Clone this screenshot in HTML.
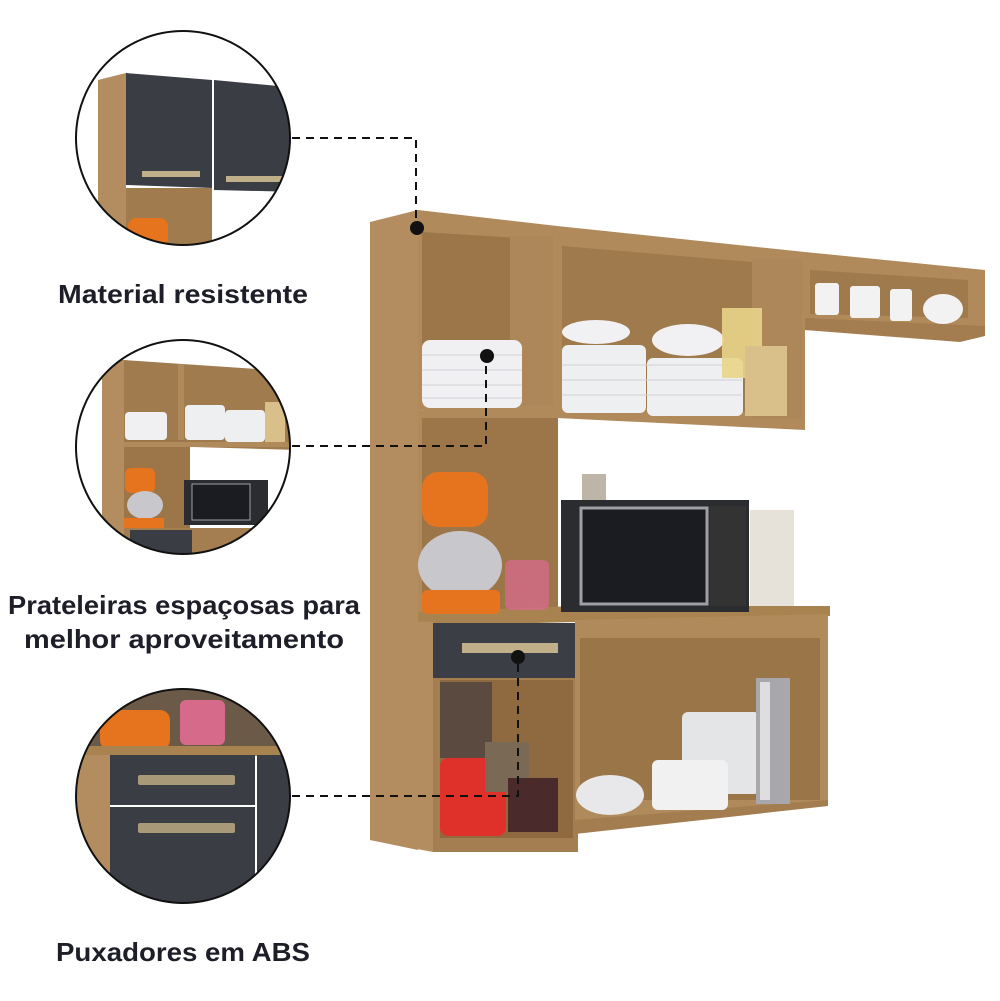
<!DOCTYPE html>
<html><head><meta charset="utf-8"><style>
html,body{margin:0;padding:0;background:#fff;}
svg{display:block}
text{font-family:"Liberation Sans",sans-serif;font-weight:bold;fill:#1e1e28;}
</style></head><body>
<svg width="1000" height="1001" viewBox="0 0 1000 1001" xmlns="http://www.w3.org/2000/svg">
<defs>
<clipPath id="c1"><circle cx="183" cy="138" r="107"/></clipPath>
<clipPath id="c2"><circle cx="183" cy="447" r="107"/></clipPath>
<clipPath id="c3"><circle cx="183" cy="796" r="107"/></clipPath>
</defs>

<!-- ===== Furniture ===== -->
<!-- tall left side panel -->
<polygon points="370,222 418,210 418,850 370,840" fill="#b38d5f"/>
<polygon points="418,210 557,226 557,418 418,410" fill="#b08a5a"/>
<!-- left top compartment interior -->
<polygon points="422,232 553,240 553,406 422,404" fill="#9c7649"/>
<rect x="510" y="236" width="43" height="170" fill="#ad875a"/>
<!-- left middle compartment -->
<polygon points="418,410 557,414 557,620 418,620" fill="#b08a5a"/>
<rect x="422" y="418" width="136" height="194" fill="#9c7649"/>
<!-- upper middle cabinet -->
<polygon points="557,226 805,252 805,430 557,418" fill="#b08a5a"/>
<polygon points="562,246 752,262 752,412 562,406" fill="#9f7a4d"/>
<rect x="752" y="258" width="50" height="160" fill="#ad875a"/>
<!-- right small shelf -->
<polygon points="805,252 985,270 985,336 805,330" fill="#b08a5a"/>
<polygon points="810,270 968,280 968,318 810,314" fill="#9f7a4d"/>
<polygon points="805,318 985,326 985,336 960,342 805,330" fill="#a37c4f"/>
<!-- counter top -->
<polygon points="418,612 575,606 830,606 830,616 575,622 418,626" fill="#a8824f"/>
<!-- lower left -->
<polygon points="370,620 433,622 433,852 370,840" fill="#b38d5f"/>
<rect x="433" y="678" width="145" height="174" fill="#a47e51"/>
<rect x="440" y="680" width="133" height="158" fill="#8f6a40"/>
<!-- drawer -->
<rect x="433" y="623" width="148" height="55" fill="#3b3e44"/>
<rect x="462" y="643" width="96" height="10" fill="#bfb08a"/>
<!-- lower right cabinet -->
<polygon points="575,620 828,614 828,805 575,832" fill="#b08a5a"/>
<rect x="580" y="638" width="240" height="162" fill="#9a7548"/>
<polygon points="575,820 828,800 828,806 575,834" fill="#a37c4f"/>

<!-- items: plates -->
<rect x="422" y="340" width="100" height="68" rx="8" fill="#f0f0f2"/>
<g stroke="#cfd2d6" stroke-width="1"><line x1="422" y1="355" x2="522" y2="355"/><line x1="422" y1="370" x2="522" y2="370"/><line x1="422" y1="385" x2="522" y2="385"/><line x1="422" y1="398" x2="522" y2="398"/></g>
<ellipse cx="596" cy="332" rx="34" ry="12" fill="#f1f1f3"/>
<rect x="562" y="345" width="84" height="68" rx="6" fill="#eeeff1"/>
<ellipse cx="688" cy="340" rx="36" ry="16" fill="#f1f1f3"/>
<rect x="647" y="358" width="96" height="58" rx="6" fill="#eeeff1"/>
<g stroke="#cfd2d6"><line x1="562" y1="365" x2="742" y2="365"/><line x1="562" y1="380" x2="742" y2="380"/><line x1="562" y1="395" x2="742" y2="395"/></g>
<rect x="722" y="308" width="40" height="70" fill="#e8d48a" opacity=".9"/>
<rect x="745" y="346" width="42" height="70" fill="#d9c08a"/>
<!-- mugs -->
<rect x="815" y="283" width="24" height="32" rx="3" fill="#f2f2f2"/>
<rect x="850" y="286" width="30" height="32" rx="3" fill="#f2f2f2"/>
<rect x="890" y="289" width="22" height="32" rx="3" fill="#f2f2f2"/>
<ellipse cx="943" cy="309" rx="20" ry="15" fill="#f2f2f2"/>
<!-- mixer -->
<rect x="422" y="472" width="66" height="55" rx="16" fill="#e6731d"/>
<ellipse cx="460" cy="565" rx="42" ry="34" fill="#c8c8cc"/>
<rect x="422" y="590" width="78" height="24" rx="5" fill="#e6731d"/>
<rect x="505" y="560" width="44" height="50" rx="6" fill="#d56a8a" opacity=".8"/>
<!-- microwave -->
<rect x="561" y="500" width="188" height="112" fill="#2b2c30"/>
<rect x="581" y="508" width="126" height="96" fill="#1b1b22" stroke="#9ea0a4" stroke-width="3"/>
<rect x="710" y="506" width="36" height="100" fill="#333"/>
<rect x="582" y="474" width="24" height="26" fill="#bdb6a8"/>
<rect x="750" y="510" width="44" height="96" fill="#e6e2da"/>
<!-- lower left items -->
<rect x="440" y="682" width="52" height="76" fill="#5a4a40"/>
<rect x="440" y="758" width="66" height="78" rx="8" fill="#e0302a"/>
<rect x="485" y="742" width="44" height="50" fill="#7a6a55"/>
<rect x="508" y="778" width="50" height="54" fill="#4a2a2a"/>
<!-- pots -->
<ellipse cx="610" cy="795" rx="34" ry="20" fill="#e8e8ea"/>
<rect x="682" y="712" width="78" height="82" rx="6" fill="#e4e5e7"/>
<rect x="652" y="760" width="76" height="50" rx="6" fill="#f1f1f2"/>
<rect x="756" y="678" width="34" height="126" fill="#a8a8ac"/>
<rect x="760" y="682" width="10" height="118" fill="#dedee0"/>

<!-- ===== Circles ===== -->
<g clip-path="url(#c1)">
<rect x="70" y="25" width="230" height="230" fill="#fff"/>
<polygon points="98,80 126,73 126,250 98,250" fill="#b38d5f"/>
<polygon points="126,73 212,80 212,188 126,185" fill="#3a3d44"/>
<polygon points="214,80 300,88 300,192 214,190" fill="#3a3d44"/>
<rect x="142" y="171" width="58" height="6" fill="#bfb08a"/>
<rect x="226" y="176" width="56" height="6" fill="#bfb08a"/>
<rect x="126" y="188" width="86" height="70" fill="#a07b4d"/>
<rect x="128" y="218" width="40" height="30" rx="8" fill="#e6731d"/>
</g>
<circle cx="183" cy="138" r="107" fill="none" stroke="#111" stroke-width="2"/>

<g clip-path="url(#c2)">
<rect x="70" y="340" width="230" height="230" fill="#fff"/>
<rect x="102" y="360" width="22" height="200" fill="#b38d5f"/>
<polygon points="124,360 300,372 300,450 124,445" fill="#a07b4d"/>
<rect x="178" y="364" width="6" height="190" fill="#b08a5a"/>
<rect x="124" y="440" width="66" height="110" fill="#9c7649"/>
<rect x="124" y="442" width="176" height="5" fill="#b08a5a"/>
<rect x="125" y="412" width="42" height="28" rx="4" fill="#f0f0f2"/>
<rect x="185" y="405" width="40" height="35" rx="4" fill="#eeeff1"/>
<rect x="225" y="410" width="40" height="32" rx="4" fill="#eeeff1"/>
<rect x="265" y="402" width="20" height="40" fill="#d9c08a"/>
<rect x="184" y="480" width="84" height="45" fill="#2b2c30"/>
<rect x="192" y="484" width="58" height="36" fill="#1b1b22" stroke="#9ea0a4"/>
<rect x="125" y="468" width="30" height="25" rx="6" fill="#e6731d"/>
<ellipse cx="145" cy="505" rx="18" ry="14" fill="#c8c8cc"/>
<rect x="124" y="518" width="40" height="10" fill="#e6731d"/>
<rect x="124" y="528" width="176" height="40" fill="#a47e51"/>
<rect x="130" y="530" width="62" height="25" fill="#3a3d44"/>
</g>
<circle cx="183" cy="447" r="107" fill="none" stroke="#111" stroke-width="2"/>

<g clip-path="url(#c3)">
<rect x="70" y="685" width="230" height="230" fill="#fff"/>
<rect x="70" y="685" width="230" height="68" fill="#6b5a48"/>
<rect x="100" y="710" width="70" height="40" rx="10" fill="#e6731d"/>
<rect x="180" y="700" width="45" height="45" rx="6" fill="#d56a8a"/>
<rect x="70" y="746" width="230" height="10" fill="#a8824f"/>
<rect x="70" y="755" width="40" height="160" fill="#b38d5f"/>
<rect x="110" y="755" width="145" height="50" fill="#3a3d44"/>
<rect x="110" y="807" width="145" height="110" fill="#3a3d44"/>
<rect x="257" y="755" width="43" height="160" fill="#3a3d44"/>
<rect x="138" y="775" width="97" height="10" rx="2" fill="#a89a78"/>
<rect x="138" y="823" width="97" height="10" rx="2" fill="#a89a78"/>
</g>
<circle cx="183" cy="796" r="107" fill="none" stroke="#111" stroke-width="2"/>

<!-- ===== Dashed connectors ===== -->
<g fill="none" stroke="#111" stroke-width="2" stroke-dasharray="8,6">
<polyline points="292,138 416,138 416,228"/>
<polyline points="292,446 486,446 486,356"/>
<polyline points="292,796 518,796 518,657"/>
</g>
<circle cx="417" cy="228" r="7" fill="#111"/>
<circle cx="487" cy="356" r="7" fill="#111"/>
<circle cx="518" cy="657" r="7" fill="#111"/>

<!-- ===== Labels ===== -->
<text x="58" y="303" font-size="26" textLength="250" lengthAdjust="spacingAndGlyphs">Material resistente</text>
<text x="8" y="614" font-size="26" textLength="352" lengthAdjust="spacingAndGlyphs">Prateleiras espaçosas para</text>
<text x="24" y="648" font-size="26" textLength="320" lengthAdjust="spacingAndGlyphs">melhor aproveitamento</text>
<text x="56" y="961" font-size="26" textLength="254" lengthAdjust="spacingAndGlyphs">Puxadores em ABS</text>
</svg>
</body></html>
